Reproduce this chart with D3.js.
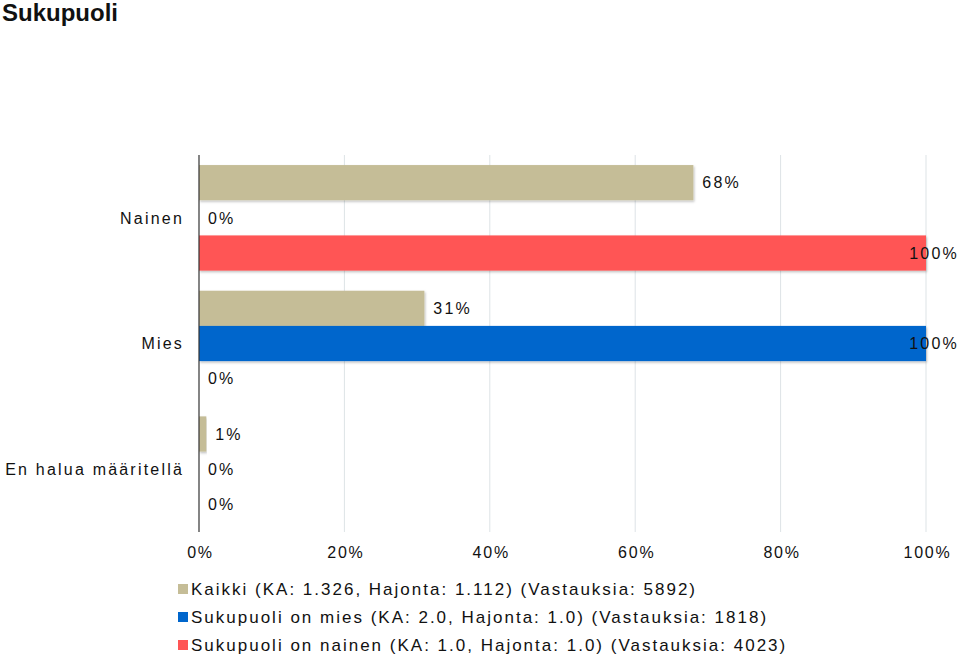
<!DOCTYPE html>
<html>
<head>
<meta charset="utf-8">
<script src="https://cdn.jsdelivr.net/npm/d3@7"></script>
<style>
  body { margin: 0; background: #fff; }
  text { font-family: "Liberation Sans", Arial, sans-serif; fill: #111; }
</style>
</head>
<body>
<script>
const categories = ["Nainen", "Mies", "En halua määritellä"];
const seriesNames = ["Kaikki (KA: 1.326, Hajonta: 1.112) (Vastauksia: 5892)",
                     "Sukupuoli on mies (KA: 2.0, Hajonta: 1.0) (Vastauksia: 1818)",
                     "Sukupuoli on nainen (KA: 1.0, Hajonta: 1.0) (Vastauksia: 4023)"];
const seriesKeys = ["kaikki", "mies", "nainen"];
const colors = ["#c5bd97", "#0066cc", "#ff5555"];
const kaikki = [0.68, 0.31, 0.01];
const mies = [0, 1, 0];
const nainen = [1, 0, 0];
const xTicks = [0, 0.2, 0.4, 0.6, 0.8, 1];

const width = 959, height = 656;
const svg = d3.select("body").append("svg")
    .attr("width", width)
    .attr("height", height);

// title
svg.append("text")
    .attr("x", 2).attr("y", 21)
    .style("font-size", "24px")
    .style("font-weight", "bold")
    .text("Sukupuoli");

const x = d3.scaleLinear().domain([0, 1]).range([199, 926]);
const y = d3.scaleBand().domain(categories).range([155, 532]).paddingInner(0.16).paddingOuter(0.08);
const ySub = d3.scaleBand().domain(seriesKeys).range([0, y.bandwidth()]);

const defs = svg.append("defs");
const filter = defs.append("filter").attr("id", "shadow")
    .attr("x", "-5%").attr("y", "-20%").attr("width", "110%").attr("height", "150%");
filter.append("feDropShadow")
    .attr("dx", 1).attr("dy", 1.5).attr("stdDeviation", 1)
    .attr("flood-color", "#000").attr("flood-opacity", 0.25);

// gridlines
svg.append("g").selectAll("line")
    .data(xTicks.slice(1))
    .join("line")
    .attr("x1", d => x(d)).attr("x2", d => x(d))
    .attr("y1", 155).attr("y2", 532)
    .attr("stroke", "#dde3e6")
    .attr("stroke-width", 1);

// x tick labels
const xAxis = d3.axisBottom(x).tickValues(xTicks).tickFormat(d3.format(".0%")).tickSize(0).tickPadding(0);
const gx = svg.append("g").attr("transform", "translate(1,558)").call(xAxis);
gx.select(".domain").remove();
gx.selectAll("text")
    .attr("dy", "0")
    .style("font-size", "16px")
    .style("letter-spacing", "1.8px")
    .style("font-family", "'Liberation Sans', Arial, sans-serif")
    .attr("fill", "#111");

const rows = [];
categories.forEach((c, i) => {
    rows.push({cat: c, key: "kaikki", v: kaikki[i], color: colors[0]});
    rows.push({cat: c, key: "mies", v: mies[i], color: colors[1]});
    rows.push({cat: c, key: "nainen", v: nainen[i], color: colors[2]});
});

const bars = svg.append("g");
bars.selectAll("rect")
    .data(rows.filter(d => d.v > 0))
    .join("rect")
    .attr("x", x(0))
    .attr("y", d => y(d.cat) + ySub(d.key))
    .attr("width", d => x(d.v) - x(0))
    .attr("height", ySub.bandwidth())
    .attr("fill", d => d.color)
    .attr("filter", "url(#shadow)");

// value labels
const labels = svg.append("g");
labels.selectAll("text")
    .data(rows)
    .join("text")
    .attr("y", d => y(d.cat) + ySub(d.key) + ySub.bandwidth() / 2)
    .attr("dy", "0.36em")
    .style("font-size", "16px")
    .style("letter-spacing", "2.2px")
    .text(d => d3.format(".0%")(d.v))
    .attr("x", function(d) {
        const w = this.getComputedTextLength();
        return Math.min(x(d.v) + 9, width - w);
    });

// y axis line and category labels
svg.append("line")
    .attr("x1", x(0)).attr("x2", x(0))
    .attr("y1", 155).attr("y2", 532)
    .attr("stroke", "#333").attr("stroke-width", 1.2);

svg.append("g").selectAll("text")
    .data(categories)
    .join("text")
    .attr("x", 184)
    .attr("y", d => y(d) + y.bandwidth() / 2)
    .attr("dy", "0.36em")
    .attr("text-anchor", "end")
    .style("font-size", "16px")
    .style("letter-spacing", "2.2px")
    .text(d => d);

// legend
const legend = svg.append("g").selectAll("g")
    .data(seriesNames)
    .join("g")
    .attr("transform", (d, i) => `translate(178,${589 + i * 28})`);
legend.append("rect")
    .attr("x", 0).attr("y", -5)
    .attr("width", 10).attr("height", 10)
    .attr("fill", (d, i) => colors[i]);
legend.append("text")
    .attr("x", 13)
    .attr("dy", "0.36em")
    .style("font-size", "17px")
    .style("letter-spacing", "2px")
    .text(d => d);
</script>
</body>
</html>
